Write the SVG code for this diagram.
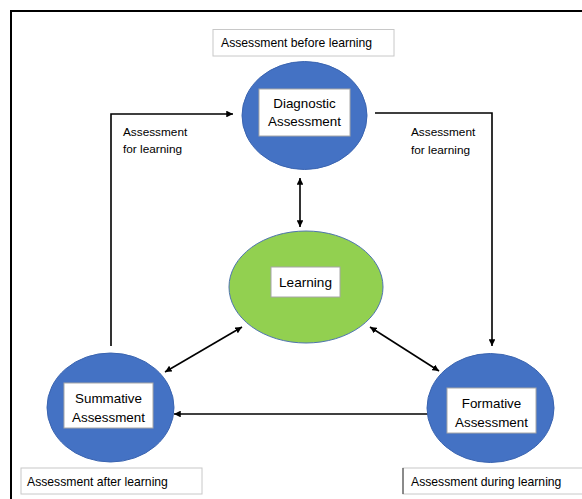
<svg xmlns="http://www.w3.org/2000/svg" width="582" height="499" viewBox="0 0 582 499">
<style>
text{font-family:"Liberation Sans",Arial,sans-serif;fill:#000;dominant-baseline:central}
.blue{fill:#4472c4;stroke:#3a64b0;stroke-width:1}
.green{fill:#92d050;stroke:#4f74b0;stroke-width:1}
.inner{fill:#fff;stroke:#a6a6a6;stroke-width:1}
.lbl{fill:#fff;stroke:#c8c8c8;stroke-width:1}
.node{font-size:13.4px;text-anchor:middle}
.note{font-size:12.2px}
.side{font-size:11.8px}
.conn{fill:none;stroke:#000;stroke-width:1.6}
</style>
<defs>
<marker id="ah" viewBox="0 0 10 10" refX="10" refY="5" markerWidth="4.2" markerHeight="4.2" orient="auto-start-reverse" markerUnits="strokeWidth">
<path d="M0,0 L10,5 L0,10 z" fill="#000"/>
</marker>
</defs>
<rect x="0" y="0" width="582" height="499" fill="#fff"/>
<rect x="11" y="11" width="620" height="540" fill="none" stroke="#000" stroke-width="2"/>

<g id="connectors">
<polyline class="conn" points="111,346 111,114 233,114" marker-end="url(#ah)"/>
<polyline class="conn" points="375,113 492,113 492,346" marker-end="url(#ah)"/>
<line class="conn" x1="300" y1="178" x2="300" y2="227" marker-start="url(#ah)" marker-end="url(#ah)"/>
<line class="conn" x1="242" y1="327" x2="165" y2="372" marker-start="url(#ah)" marker-end="url(#ah)"/>
<line class="conn" x1="370" y1="327" x2="439" y2="371" marker-start="url(#ah)" marker-end="url(#ah)"/>
<line class="conn" x1="428" y1="414" x2="174" y2="414" marker-end="url(#ah)"/>
</g>

<g id="label-before">
<rect class="lbl" x="213" y="29.5" width="181" height="26.5"/>
<text class="note" x="221" y="43">Assessment before learning</text>
</g>

<g id="diagnostic">
<ellipse class="blue" cx="304.5" cy="115.5" rx="62.5" ry="54"/>
<rect class="inner" x="259" y="89" width="91" height="47"/>
<text class="node" x="304.5" y="103">Diagnostic</text>
<text class="node" x="304.5" y="121.5">Assessment</text>
</g>

<g id="label-left">
<text class="side" x="123" y="132">Assessment</text>
<text class="side" x="123" y="149">for learning</text>
</g>

<g id="label-right">
<text class="side" x="411" y="132">Assessment</text>
<text class="side" x="411" y="149.5">for learning</text>
</g>

<g id="learning">
<ellipse class="green" cx="306" cy="287" rx="77" ry="56"/>
<rect class="inner" x="271" y="267" width="69" height="30"/>
<text style="font-size:13.6px;text-anchor:middle" x="305.5" y="282.5">Learning</text>
</g>

<g id="summative">
<ellipse class="blue" cx="110.5" cy="407.5" rx="63.5" ry="54.5"/>
<rect class="inner" x="64" y="383" width="89" height="45"/>
<text class="node" x="108.5" y="398">Summative</text>
<text class="node" x="108.5" y="417">Assessment</text>
</g>

<g id="formative">
<ellipse class="blue" cx="490.5" cy="408" rx="63.5" ry="54.5"/>
<rect class="inner" x="447" y="388" width="89" height="45"/>
<text class="node" x="491.5" y="403">Formative</text>
<text class="node" x="491.5" y="422">Assessment</text>
</g>

<g id="label-after">
<rect class="lbl" x="21" y="468" width="181" height="26"/>
<text class="note" x="27" y="481.5">Assessment after learning</text>
</g>

<g id="label-during">
<rect class="lbl" x="403" y="468" width="190" height="26"/>
<line x1="403" y1="468" x2="403" y2="494" stroke="#333" stroke-width="1"/>
<text class="note" x="411" y="481.5">Assessment during learning</text>
</g>
</svg>
